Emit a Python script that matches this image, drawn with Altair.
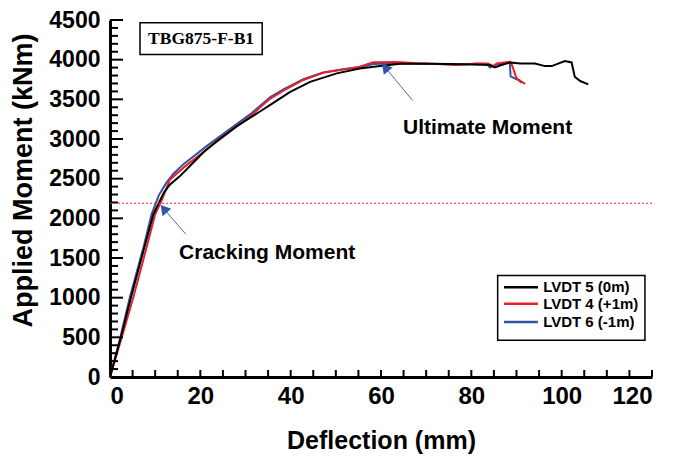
import altair as alt
import pandas as pd

# ---- data ----
x_lvdt5 = [0, 2.3, 4.65, 7.6, 9.6, 11.1, 12.0, 13.3, 15.5, 18.4, 21.0, 23.6, 28.0, 33.2, 36.0, 39.8, 44.3, 50.2,
           55.3, 59.8, 64.2, 70.0, 75.3, 80.0, 84.1, 85.2, 86.5, 88.6, 90.8, 94.1, 96.3, 97.8, 100.7, 102.2,
           102.9, 104.1, 105.9]
y_lvdt5 = [0, 480, 1006, 1633, 2052, 2230, 2330, 2428, 2532, 2700, 2850, 2971, 3159, 3347, 3450, 3590, 3720, 3827,
           3889, 3919, 3950, 3950, 3945, 3940, 3932, 3902, 3930, 3965, 3952, 3952, 3919, 3919, 3982, 3965,
           3785, 3731, 3689]

x_lvdt4 = [0, 2.5, 5.17, 8.1, 10.0, 11.6, 12.5, 13.3, 16.2, 21.4, 26.6, 31.0, 33.9, 35.5, 38.4, 42.8, 47.2, 51.6,
           55.3, 58.3, 63.5, 68.0, 73.1, 76.8, 81.2, 83.7, 84.9, 85.6, 88.6, 88.9, 90.0, 91.9]
y_lvdt4 = [0, 480, 1006, 1633, 2052, 2250, 2380, 2490, 2636, 2867, 3096, 3284, 3431, 3510, 3610, 3744, 3835, 3877,
           3911, 3968, 3970, 3955, 3945, 3932, 3952, 3952, 3915, 3952, 3973, 3950, 3764, 3694]

x_lvdt6 = [0, 2.2, 4.4, 7.4, 9.2, 10.8, 12.5, 14.0, 16.2, 21.4, 26.6, 31.0, 33.9, 35.5, 38.4, 42.8, 47.2, 51.6,
           55.3, 58.3, 63.5, 70.0, 76.0, 81.5, 83.5, 84.1, 85.5, 88.5, 88.7, 90.4, 91.1]
y_lvdt6 = [0, 480, 1006, 1633, 2052, 2290, 2450, 2560, 2680, 2910, 3130, 3310, 3450, 3530, 3625, 3755, 3840, 3878,
           3905, 3945, 3955, 3950, 3940, 3950, 3945, 3902, 3940, 3970, 3790, 3744, 3710]

series_names = ["LVDT 5 (0m)", "LVDT 4 (+1m)", "LVDT 6 (-1m)"]
series_colors = ["#000000", "#e8202a", "#3552a3"]

cracking_moment = 2190

x_labels = [0, 20, 40, 60, 80, 100, 120]
y_labels = [0, 500, 1000, 1500, 2000, 2500, 3000, 3500, 4000, 4500]
x_ticks = [5, 10, 15, 20, 25, 30, 35, 40, 45, 50, 55, 60, 65, 70, 75, 80, 85, 90, 95, 100, 105, 110, 115, 120]
y_major_ticks = [500, 1000, 1500, 2000, 2500, 3000, 3500, 4000, 4500]
y_minor_ticks = [100, 200, 300, 400, 600, 700, 800, 900, 1100, 1200, 1300, 1400, 1600, 1700, 1800, 1900,
                 2100, 2200, 2300, 2400, 2600, 2700, 2800, 2900, 3100, 3200, 3300, 3400, 3600, 3700, 3800, 3900,
                 4100, 4200, 4300, 4400]

# annotations (data coordinates)
ann_text = ["Cracking Moment", "Ultimate Moment"]
ann_x = [34.8, 83.6]
ann_y = [1560, 3134]
arrow_tail_x = [16.76, 67.0]
arrow_tail_y = [1801, 3485]
arrow_head_x = [11.9, 60.9]
arrow_head_y = [2121, 3904]

label_box = {"text": "TBG875-F-B1", "x": 6.64, "x2": 33.7, "y": 4466, "y2": 4065}
legend_box = {"x": 85.83, "x2": 118.44, "y": 1278, "y2": 464}
legend_row_y = [1132, 924, 693]
legend_line_x = [87.23, 94.75]
legend_text_x = 95.9

W, H = 542, 357
SANS = "Liberation Sans"
XU = 120 / W      # data units per pixel (x)
YU = 4500 / H     # data units per pixel (y)

xs = alt.Scale(domain=[0, 120], nice=False, zero=True)
ys = alt.Scale(domain=[0, 4500], nice=False, zero=True)

X_AXIS = alt.Axis(
    values=x_labels, format="d", title="Deflection (mm)", grid=False, ticks=False,
    domainWidth=3, domainColor="black", labelFont=SANS, labelFontSize=24,
    labelFontWeight="bold", labelColor="black", labelPadding=7, labelOverlap=False,
    titleFont=SANS, titleFontSize=25, titleFontWeight="bold", titleColor="black",
    titleBaseline="middle", titleY=63, titleX=W / 2)
Y_AXIS = alt.Axis(
    values=y_labels, format="d", title="Applied Moment (kNm)", grid=False, ticks=False,
    domainWidth=3, domainColor="black", labelFont=SANS, labelFontSize=23,
    labelFontWeight="bold", labelColor="black", labelPadding=10, labelOverlap=False,
    titleFont=SANS, titleFontSize=27, titleFontWeight="bold", titleColor="black",
    titleBaseline="middle", titleX=-87, titleY=160, titleAngle=-90)


def X(field="x"):
    return alt.X(f"{field}:Q", scale=xs, axis=X_AXIS)


def Y(field="y"):
    return alt.Y(f"{field}:Q", scale=ys, axis=Y_AXIS)


def line_layer(xv, yv, color):
    return alt.Chart(pd.DataFrame({"x": xv, "y": yv})).mark_line(
        color=color, strokeWidth=2).encode(x=X(), y=Y())


blue = line_layer(x_lvdt6, y_lvdt6, series_colors[2])
red = line_layer(x_lvdt4, y_lvdt4, series_colors[1])
black = line_layer(x_lvdt5, y_lvdt5, series_colors[0])

crack_line = alt.Chart(pd.DataFrame({"y": [cracking_moment], "x": [0], "x2": [120]})).mark_rule(
    color="#e8202a", strokeWidth=1.2, strokeDash=[2, 2]).encode(x=X(), x2="x2:Q", y=Y())

# inward axis ticks, each one a two-point line segment (same mark type as the series)
tick_rows = []
for i, v in enumerate(x_ticks):
    tick_rows.append({"id": f"x{i}", "o": 0, "x": v, "y": 0.0, "w": 1.5})
    tick_rows.append({"id": f"x{i}", "o": 1, "x": v, "y": 7 * YU, "w": 1.5})
for i, v in enumerate(y_major_ticks):
    tick_rows.append({"id": f"M{i}", "o": 0, "x": 0.0, "y": v, "w": 2})
    tick_rows.append({"id": f"M{i}", "o": 1, "x": 13 * XU, "y": v, "w": 2})
for i, v in enumerate(y_minor_ticks):
    tick_rows.append({"id": f"m{i}", "o": 0, "x": 0.0, "y": v, "w": 2})
    tick_rows.append({"id": f"m{i}", "o": 1, "x": 8 * XU, "y": v, "w": 2})
ticks = alt.Chart(pd.DataFrame(tick_rows)).mark_line(color="black", strokeWidth=2).encode(
    x=X(), y=Y(), detail="id:N", order="o:Q")

arrows_df = pd.DataFrame({"x": arrow_tail_x, "y": arrow_tail_y, "x2": arrow_head_x, "y2": arrow_head_y})
arrow_lines = alt.Chart(arrows_df).mark_rule(color="#4a68b4", strokeWidth=1).encode(
    x=X(), y=Y(), x2="x2:Q", y2="y2:Q")
arrow_heads = alt.Chart(pd.DataFrame({"x": arrow_head_x, "y": arrow_head_y})).mark_point(
    shape="triangle-up", filled=True, color="#3552a3", size=130, angle=320, opacity=1).encode(
    x=X(), y=Y())

ann = alt.Chart(pd.DataFrame({"t": ann_text, "x": ann_x, "y": ann_y})).mark_text(
    font=SANS, fontSize=21, fontWeight="bold", color="black", align="center", baseline="middle").encode(
    x=X(), y=Y(), text="t:N")

lb_rect = alt.Chart(pd.DataFrame([label_box])).mark_rect(fill="white", stroke="black", strokeWidth=1.5).encode(
    x=X(), x2="x2:Q", y=Y(), y2="y2:Q")
lb_text = alt.Chart(pd.DataFrame({"t": [label_box["text"]],
                                  "x": [(label_box["x"] + label_box["x2"]) / 2],
                                  "y": [(label_box["y"] + label_box["y2"]) / 2]})).mark_text(
    font="Liberation Serif", fontSize=17.5, fontWeight="bold", color="black",
    align="center", baseline="middle").encode(x=X(), y=Y(), text="t:N")

lg_rect = alt.Chart(pd.DataFrame([legend_box])).mark_rect(fill="white", stroke="black", strokeWidth=1.5).encode(
    x=X(), x2="x2:Q", y=Y(), y2="y2:Q")
lg_lines = [
    alt.Chart(pd.DataFrame({"y": [legend_row_y[i]], "x": [legend_line_x[0]], "x2": [legend_line_x[1]]}))
    .mark_rule(strokeWidth=2.5, color=series_colors[i]).encode(x=X(), x2="x2:Q", y=Y())
    for i in range(3)
]
lg_text = alt.Chart(pd.DataFrame({"name": series_names, "y": legend_row_y,
                                  "x": [legend_text_x] * 3})).mark_text(
    font=SANS, fontSize=15, fontWeight="bold", color="black", align="left", baseline="middle").encode(
    x=X(), y=Y(), text="name:N")

chart = alt.layer(
    blue, red, black, ticks, crack_line,
    arrow_lines, arrow_heads, ann, lb_rect, lb_text, lg_rect, *lg_lines, lg_text
).properties(
    width=W, height=H,
    autosize=alt.AutoSizeParams(type="none"),
    padding={"left": 102, "top": 12, "right": 14, "bottom": 80},
    background="white",
).configure_view(stroke=None)

chart.save("out.html", embed_options={"renderer": "svg", "actions": False})
